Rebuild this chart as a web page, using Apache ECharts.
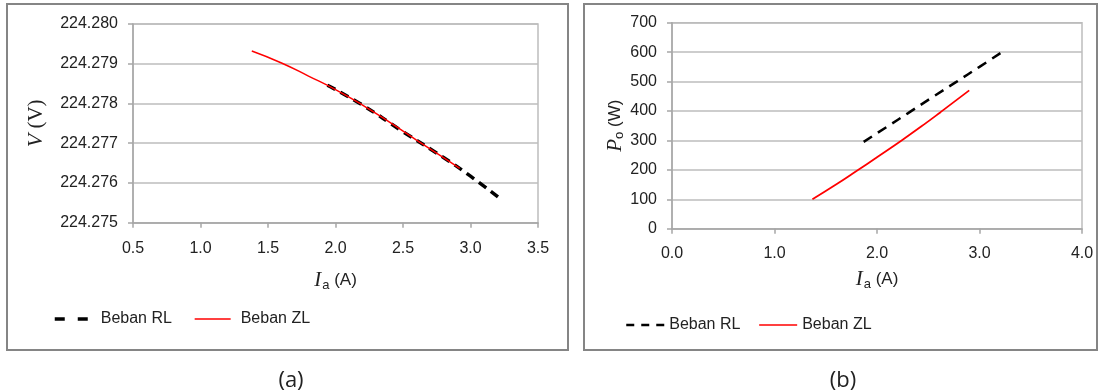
<!DOCTYPE html>
<html>
<head>
<meta charset="utf-8">
<script src="https://cdn.jsdelivr.net/npm/echarts@6/dist/echarts.min.js"></script>
<style>
html,body{margin:0;padding:0;background:#fff;}
#main{width:1101px;height:392px;}
</style>
</head>
<body>
<div id="main"></div>
<script>
// (a) V vs Ia
var aZlIa = [1.38, 1.6, 1.8, 2.0, 2.2, 2.4, 2.6, 2.8, 2.92];
var aZlV = [224.27932, 224.27902, 224.27869, 224.27835, 224.27796, 224.27753, 224.27708, 224.27664, 224.27637];
var aRlIa = [1.94, 2.2, 2.5, 2.8, 3.0, 3.21];
var aRlV = [224.27846, 224.27796, 224.27729, 224.27664, 224.27617, 224.27563];
// (b) Po vs Ia
var bZlIa = [1.37, 1.6, 1.8, 2.0, 2.24, 2.45, 2.62, 2.9];
var bZlP = [100, 150, 196, 243, 300, 352, 396, 470];
var bRlIa = [1.87, 2.1, 2.3, 2.55, 2.77, 3.0, 3.21];
var bRlP = [295, 347, 392, 449, 498, 550, 598];
var legendNames = ['Beban RL', 'Beban ZL'];
var panelLabels = ['(a)', '(b)'];

var pairs = function (xs, ys) {
	var out = [];
	for (var i = 0; i < xs.length; i++) out.push([xs[i], ys[i]]);
	return out;
};

var FONT = '"Liberation Sans", Arial, sans-serif';
var gridColor = '#bdbdbd';
var axisColor = '#a6a6a6';

var makeX = function (idx, min, max, gap, margin) {
	return {
		type: 'value', gridIndex: idx, min: min, max: max, interval: idx == 0 ? 0.5 : 1,
		axisLine: {lineStyle: {color: axisColor, width: 1.5}},
		axisTick: {show: true, length: 5, lineStyle: {color: axisColor, width: 1.5}},
		splitLine: {show: false},
		axisLabel: {color: '#222', fontFamily: FONT, fontSize: 16, margin: margin,
			formatter: function (v) { return v.toFixed(1); }},
		name: '{i|I}{s|a}{t| (A)}', nameLocation: 'middle', nameGap: gap,
		nameTextStyle: {
			rich: {
				i: {fontFamily: 'Liberation Serif', fontStyle: 'italic', fontSize: 21, color: '#222', lineHeight: 22},
				s: {fontFamily: FONT, fontSize: 13, color: '#222', verticalAlign: 'bottom', lineHeight: 22, padding: [8, 0, 0, 1]},
				t: {fontFamily: FONT, fontSize: 17, color: '#222', lineHeight: 22}
			}
		}
	};
};

var legendItem = function (name, color, width, dash) {
	return {
		name: name,
		itemStyle: {opacity: 0},
		lineStyle: {color: color, width: width, type: dash || 'solid'}
	};
};

var chart = echarts.init(document.getElementById('main'));
chart.setOption({
	backgroundColor: '#fff',
	animation: false,
	grid: [
		{left: 133, top: 24, width: 405, height: 198.7, show: true, borderColor: gridColor, borderWidth: 1.5},
		{left: 672, top: 22.7, width: 410, height: 206, show: true, borderColor: gridColor, borderWidth: 1.5}
	],
	xAxis: [makeX(0, 0.5, 3.5, 47, 18), makeX(1, 0, 4, 40, 17)],
	yAxis: [
		{
			type: 'value', gridIndex: 0, min: 224.275, max: 224.280, interval: 0.001,
			axisLine: {show: true, lineStyle: {color: axisColor, width: 1.5}},
			axisTick: {show: true, length: 5, lineStyle: {color: axisColor, width: 1.5}},
			splitLine: {lineStyle: {color: gridColor, width: 1.5}},
			axisLabel: {color: '#222', fontFamily: FONT, fontSize: 16, margin: 15,
				formatter: function (v) { return v.toFixed(3); }},
			name: '{i|V}{t| (V)}', nameLocation: 'middle', nameGap: 86, nameRotate: 90,
			nameTextStyle: {
				rich: {
					i: {fontFamily: 'Liberation Serif', fontStyle: 'italic', fontSize: 22, color: '#222'},
					t: {fontFamily: 'Liberation Serif', fontSize: 21, color: '#222'}
				}
			}
		},
		{
			type: 'value', gridIndex: 1, min: 0, max: 700, interval: 100,
			axisLine: {show: true, lineStyle: {color: axisColor, width: 1.5}},
			axisTick: {show: true, length: 5, lineStyle: {color: axisColor, width: 1.5}},
			splitLine: {lineStyle: {color: gridColor, width: 1.5}},
			axisLabel: {color: '#222', fontFamily: FONT, fontSize: 16, margin: 15},
			name: '{i|P}{s|o}{t| (W)}', nameLocation: 'middle', nameGap: 40, nameRotate: 90,
			nameTextStyle: {
				rich: {
					i: {fontFamily: 'Liberation Serif', fontStyle: 'italic', fontSize: 21, color: '#222', lineHeight: 22},
					s: {fontFamily: FONT, fontSize: 13, color: '#222', verticalAlign: 'bottom', lineHeight: 22, padding: [8, 0, 0, 0]},
					t: {fontFamily: FONT, fontSize: 17, color: '#222', lineHeight: 22}
				}
			}
		}
	],
	legend: [
		{
			left: 53, top: 311, padding: 0, itemWidth: 36, itemHeight: 14, itemGap: 22, selectedMode: false,
			textStyle: {fontFamily: FONT, fontSize: 16, color: '#222', padding: [0, 0, 0, 5]},
			data: [
				legendItem(legendNames[0], '#000', 3.5, [10, 13]),
				legendItem(legendNames[1], '#ff0000', 1.5)
			]
		},
		{
			left: 625, top: 317, padding: 0, itemWidth: 38, itemHeight: 14, itemGap: 18, selectedMode: false,
			textStyle: {fontFamily: FONT, fontSize: 16, color: '#222'},
			data: [
				legendItem(legendNames[0], '#000', 2.5, [8, 7]),
				legendItem(legendNames[1], '#ff0000', 1.5)
			]
		}
	],
	graphic: [
		{type: 'rect', shape: {x: 7, y: 4, width: 561, height: 346}, style: {fill: 'none', stroke: '#858585', lineWidth: 2}, z: -1},
		{type: 'rect', shape: {x: 584, y: 4, width: 513, height: 346}, style: {fill: 'none', stroke: '#858585', lineWidth: 2}, z: -1},
		{type: 'text', x: 291, y: 381, style: {text: panelLabels[0], font: '22px "Open Sans"', fill: '#222', textAlign: 'center', textVerticalAlign: 'middle'}},
		{type: 'text', x: 843, y: 381, style: {text: panelLabels[1], font: '22px "Open Sans"', fill: '#222', textAlign: 'center', textVerticalAlign: 'middle'}}
	],
	series: [
		{
			name: legendNames[0], type: 'line', xAxisIndex: 0, yAxisIndex: 0, smooth: true, symbol: 'none',
			data: pairs(aRlIa, aRlV),
			lineStyle: {color: '#000', width: 3.5, type: [9, 6]}, itemStyle: {color: '#000'}, z: 2
		},
		{
			name: legendNames[1], type: 'line', xAxisIndex: 0, yAxisIndex: 0, smooth: true, symbol: 'none',
			data: pairs(aZlIa, aZlV),
			lineStyle: {color: '#ff0000', width: 1.5}, itemStyle: {color: '#ff0000'}, z: 3
		},
		{
			name: legendNames[0], type: 'line', xAxisIndex: 1, yAxisIndex: 1, smooth: true, symbol: 'none',
			data: pairs(bRlIa, bRlP),
			lineStyle: {color: '#000', width: 2.5, type: [10, 7]}, itemStyle: {color: '#000'}
		},
		{
			name: legendNames[1], type: 'line', xAxisIndex: 1, yAxisIndex: 1, smooth: true, symbol: 'none',
			data: pairs(bZlIa, bZlP),
			lineStyle: {color: '#ff0000', width: 1.8}, itemStyle: {color: '#ff0000'}
		}
	]
});
</script>
</body>
</html>
